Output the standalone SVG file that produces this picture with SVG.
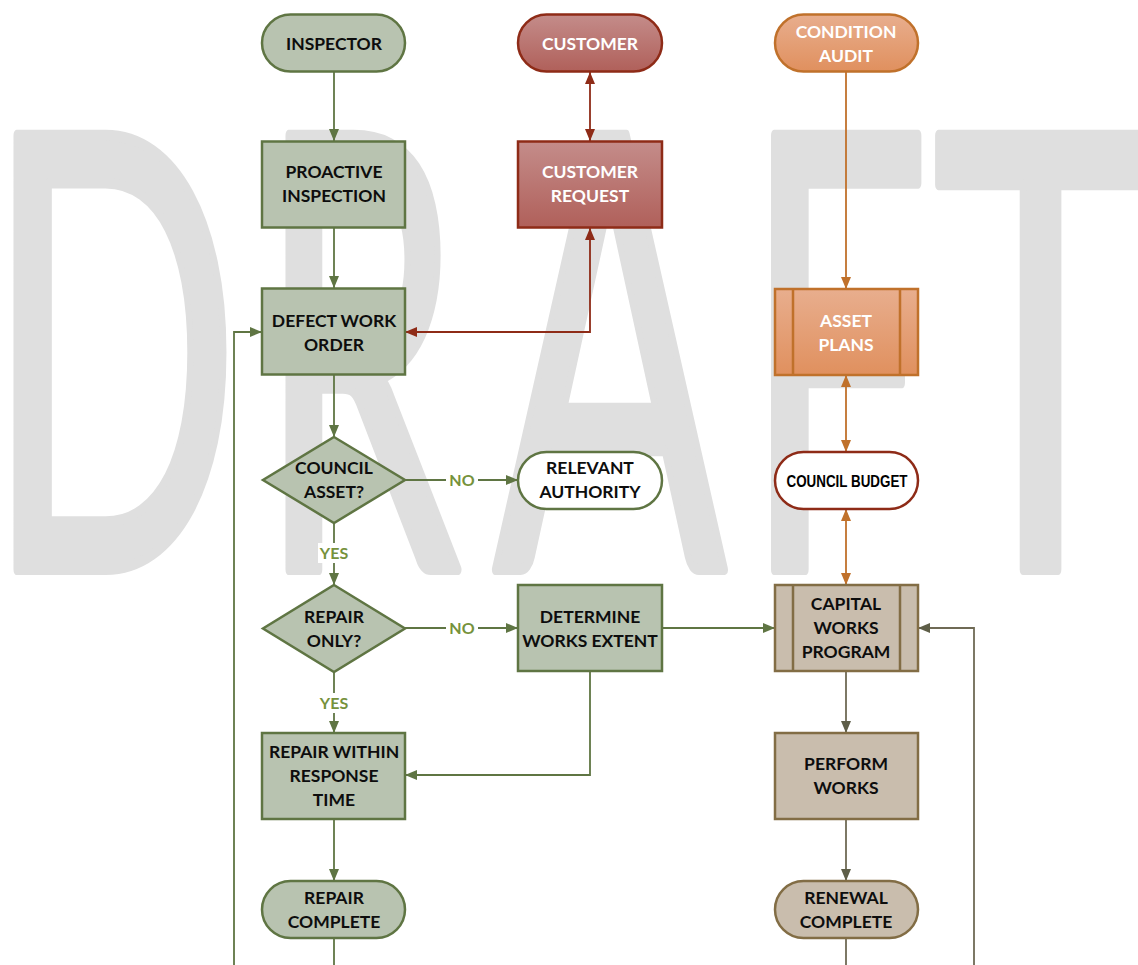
<svg xmlns="http://www.w3.org/2000/svg" width="1138" height="965" viewBox="0 0 1138 965">
<style>
.wm{font-family:Lato,"Open Sans","Liberation Sans",sans-serif;font-weight:400;font-size:606px;fill:#dfdfdf;stroke:#dfdfdf;stroke-width:11;stroke-linejoin:round}
.t{font-family:Lato,"Liberation Sans",sans-serif;font-weight:700;font-size:17.5px;text-anchor:middle;fill:#0d0d0d}
.tw{fill:#ffffff}
.lbl{font-family:Lato,"Liberation Sans",sans-serif;font-weight:700;font-size:16px;text-anchor:middle;fill:#76923c}
.g{fill:#b8c3b0;stroke:#5f7543;stroke-width:2.5}
.r{fill:url(#gr);stroke:#8e2b17;stroke-width:2.5}
.o{fill:url(#go);stroke:#c0712b;stroke-width:2.5}
.b{fill:#c9bdad;stroke:#826d45;stroke-width:2.5}
.wg{fill:#ffffff;stroke:#5f7543;stroke-width:2.5}
.wr{fill:#ffffff;stroke:#8e2b17;stroke-width:2.5}
.cg{fill:none;stroke:#5f7543;stroke-width:1.8}
.cr{fill:none;stroke:#8e2b17;stroke-width:1.8}
.co{fill:none;stroke:#c0712b;stroke-width:1.8}
.cb{fill:none;stroke:#6f6a55;stroke-width:1.8}
</style>
<defs>
<linearGradient id="gr" x1="0" y1="0" x2="0" y2="1"><stop offset="0" stop-color="#c48c8a"/><stop offset="1" stop-color="#b0605a"/></linearGradient>
<linearGradient id="go" x1="0" y1="0" x2="0" y2="1"><stop offset="0" stop-color="#e8ae8e"/><stop offset="1" stop-color="#e0905e"/></linearGradient>
<marker id="ag" viewBox="0 0 12 10" refX="12" refY="5" markerWidth="12" markerHeight="10" markerUnits="userSpaceOnUse" orient="auto-start-reverse"><path d="M0,0L12,5L0,10z" fill="#5f7543"/></marker>
<marker id="ar" viewBox="0 0 12 10" refX="12" refY="5" markerWidth="12" markerHeight="10" markerUnits="userSpaceOnUse" orient="auto-start-reverse"><path d="M0,0L12,5L0,10z" fill="#8e2b17"/></marker>
<marker id="ao" viewBox="0 0 12 10" refX="12" refY="5" markerWidth="12" markerHeight="10" markerUnits="userSpaceOnUse" orient="auto-start-reverse"><path d="M0,0L12,5L0,10z" fill="#c0712b"/></marker>
<marker id="ab" viewBox="0 0 12 10" refX="12" refY="5" markerWidth="12" markerHeight="10" markerUnits="userSpaceOnUse" orient="auto-start-reverse"><path d="M0,0L12,5L0,10z" fill="#5e5e48"/></marker>
</defs>
<rect width="1138" height="965" fill="#ffffff"/>
<g id="watermark">
<text class="wm" transform="translate(-14,569.5) scale(0.55,1)">D</text>
<text class="wm" transform="translate(259,569.5) scale(0.53,1)">R</text>
<text class="wm" transform="translate(494,569.5) scale(0.565,1)">A</text>
<text class="wm" transform="translate(744,569.5) scale(0.54,1)">F</text>
<text class="wm" transform="translate(933,569.5) scale(0.6,1)">T</text>
</g>

<g id="connectors">
<path class="cg" d="M334,72V141" marker-end="url(#ag)"/>
<path class="cg" d="M334,228V288" marker-end="url(#ag)"/>
<path class="cg" d="M334,375V437" marker-end="url(#ag)"/>
<path class="cg" d="M405,480H518" marker-end="url(#ag)"/>
<path class="cg" d="M334,523V585" marker-end="url(#ag)"/>
<path class="cg" d="M405,628H518" marker-end="url(#ag)"/>
<path class="cg" d="M334,672V733" marker-end="url(#ag)"/>
<path class="cg" d="M662,628H775" marker-end="url(#ag)"/>
<path class="cg" d="M590,671V775H405" marker-end="url(#ag)"/>
<path class="cg" d="M334,819V881" marker-end="url(#ag)"/>
<path class="cg" d="M334,938V965"/>
<path class="cg" d="M234,965V332H262" marker-end="url(#ag)"/>
<path class="cr" d="M590,72V141" marker-start="url(#ar)" marker-end="url(#ar)"/>
<path class="cr" d="M590,228V332H405" marker-start="url(#ar)" marker-end="url(#ar)"/>
<path class="co" d="M846,72V289" marker-end="url(#ao)"/>
<path class="co" d="M846,375V452" marker-start="url(#ao)" marker-end="url(#ao)"/>
<path class="co" d="M846,509V585" marker-start="url(#ao)" marker-end="url(#ao)"/>
<path class="cb" d="M846,671V733" marker-end="url(#ab)"/>
<path class="cb" d="M846,819V881" marker-end="url(#ab)"/>
<path class="cb" d="M846,938V965"/>
<path class="cb" d="M974,965V628H918" marker-end="url(#ab)"/>
<rect x="446" y="470" width="32" height="20" fill="#ffffff"/>
<text class="lbl" x="462" y="486">NO</text>
<rect x="446" y="618" width="32" height="20" fill="#ffffff"/>
<text class="lbl" x="462" y="634">NO</text>
<rect x="318" y="543" width="32" height="20" fill="#ffffff"/>
<text class="lbl" x="334" y="559">YES</text>
<rect x="318" y="693" width="32" height="20" fill="#ffffff"/>
<text class="lbl" x="334" y="709">YES</text>
</g>

<g id="inspector"><rect class="g" x="262" y="14.5" width="143" height="57" rx="28.5"/><text class="t" x="334" y="50">INSPECTOR</text></g>
<g id="proactive-inspection"><rect class="g" x="262" y="141.5" width="143" height="86"/><text class="t" x="334" y="178">PROACTIVE</text><text class="t" x="334" y="202">INSPECTION</text></g>
<g id="defect-work-order"><rect class="g" x="262" y="288.5" width="143" height="86"/><text class="t" x="334" y="327">DEFECT WORK</text><text class="t" x="334" y="351">ORDER</text></g>
<g id="council-asset"><path class="g" d="M334,437L405,480L334,523L263,480z"/><text class="t" x="334" y="474">COUNCIL</text><text class="t" x="334" y="498">ASSET?</text></g>
<g id="repair-only"><path class="g" d="M334,585L405,628.5L334,672L263,628.5z"/><text class="t" x="334" y="623">REPAIR</text><text class="t" x="334" y="647">ONLY?</text></g>
<g id="repair-within"><rect class="g" x="262" y="733" width="143" height="86"/><text class="t" x="334" y="758">REPAIR WITHIN</text><text class="t" x="334" y="782">RESPONSE</text><text class="t" x="334" y="806">TIME</text></g>
<g id="repair-complete"><rect class="g" x="262" y="881" width="143" height="57" rx="28.5"/><text class="t" x="334" y="904">REPAIR</text><text class="t" x="334" y="928">COMPLETE</text></g>

<g id="customer"><rect class="r" x="518" y="14.5" width="144" height="57" rx="28.5"/><text class="t tw" x="590" y="50">CUSTOMER</text></g>
<g id="customer-request"><rect class="r" x="518" y="141.5" width="144" height="86"/><text class="t tw" x="590" y="178">CUSTOMER</text><text class="t tw" x="590" y="202">REQUEST</text></g>
<g id="relevant-authority"><rect class="wg" x="518" y="452" width="144" height="57" rx="28.5"/><text class="t" x="590" y="474">RELEVANT</text><text class="t" x="590" y="498">AUTHORITY</text></g>
<g id="determine-works-extent"><rect class="g" x="518" y="585" width="144" height="86"/><text class="t" x="590" y="623">DETERMINE</text><text class="t" x="590" y="647">WORKS EXTENT</text></g>

<g id="condition-audit"><rect class="o" x="775" y="14.5" width="143" height="57" rx="28.5"/><text class="t tw" x="846" y="38">CONDITION</text><text class="t tw" x="846" y="62">AUDIT</text></g>
<g id="asset-plans"><rect class="o" x="775" y="289" width="143" height="86"/><path class="o" d="M793,289V375M900,289V375" fill="none"/><text class="t tw" x="846" y="327">ASSET</text><text class="t tw" x="846" y="351">PLANS</text></g>
<g id="council-budget"><rect class="wr" x="775" y="452" width="143" height="57" rx="28.5"/><text x="847" y="487" text-anchor="middle" font-family="Liberation Sans, Arial, sans-serif" font-weight="700" font-size="16" fill="#000000" textLength="121" lengthAdjust="spacingAndGlyphs">COUNCIL BUDGET</text></g>
<g id="capital-works-program"><rect class="b" x="775" y="585" width="143" height="86"/><path class="b" d="M793,585V671M900,585V671" fill="none"/><text class="t" x="846" y="610">CAPITAL</text><text class="t" x="846" y="634">WORKS</text><text class="t" x="846" y="658">PROGRAM</text></g>
<g id="perform-works"><rect class="b" x="775" y="733" width="143" height="86"/><text class="t" x="846" y="770">PERFORM</text><text class="t" x="846" y="794">WORKS</text></g>
<g id="renewal-complete"><rect class="b" x="775" y="881" width="143" height="57" rx="28.5"/><text class="t" x="846" y="904">RENEWAL</text><text class="t" x="846" y="928">COMPLETE</text></g>
</svg>
